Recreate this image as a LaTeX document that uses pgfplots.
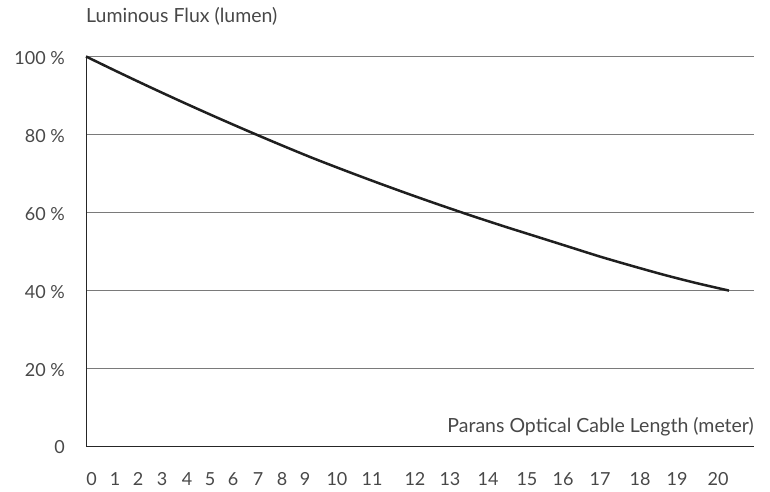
\documentclass[border=0pt]{standalone}
\usepackage{pgfplots}
\pgfplotsset{compat=1.18}
\usepackage{fontspec}
\setmainfont{Lato}
\definecolor{txt}{HTML}{484848}
\definecolor{curve}{HTML}{1F1F1F}
\definecolor{gridc}{HTML}{7A7A7A}
\begin{document}
\begin{tikzpicture}
\path[use as bounding box] (0,0) rectangle (770bp,492bp);
\begin{axis}[
  at={(86bp,46bp)}, anchor=south west,
  scale only axis, width=668bp, height=389.5bp,
  xmin=0, xmax=20.778, ymin=0, ymax=100,
  axis x line=bottom, axis y line=left,
  axis line style={-, draw=black!85, line width=1bp},
  major tick length=0pt,
  ymajorgrids, grid style={gridc, line width=1bp},
  ytick={0,20,40,60,80,100},
  yticklabels={0,20 \%,40 \%,60 \%,80 \%,100 \%},
  xtick={0.177,0.902,1.617,2.364,3.142,3.857,4.572,5.350,6.096,6.812,7.807,8.896,10.233,11.322,12.504,13.717,14.837,15.988,17.232,18.383,19.658},
  xticklabels={0,1,2,3,4,5,6,7,8,9,10,11,12,13,14,15,16,17,18,19,20},
  tick label style={font=\fontsize{18bp}{21bp}\selectfont, text=txt},
  xticklabel style={anchor=base, inner sep=0pt, yshift=-39bp},
  yticklabel style={anchor=east, inner sep=0pt, xshift=-21bp, yshift=-1.5bp},
  clip=false,
]
\addplot[curve, line width=2.5bp, smooth] coordinates {
(0,100) (1,96.0) (2,92.1) (3,88.3) (4,84.6) (5,81.0) (6,77.5) (7,74.1)
(8,70.9) (9,67.8) (10,64.8) (11,61.9) (12,59.1) (13,56.4) (14,53.8)
(15,51.2) (16,48.6) (17,46.2) (18,43.9) (19,41.8) (20,39.9)
};
\node[anchor=base west, inner sep=0pt, text=txt, font=\fontsize{19.5bp}{23bp}\selectfont]
  at ([yshift=33.5bp]rel axis cs:0,1) {Luminous Flux (lumen)};
\node[anchor=base east, inner sep=0pt, text=txt, font=\fontsize{19.5bp}{23bp}\selectfont]
  at ([yshift=14bp]rel axis cs:1,0) {Parans Optical Cable Length (meter)};
\end{axis}
\end{tikzpicture}
\end{document}
